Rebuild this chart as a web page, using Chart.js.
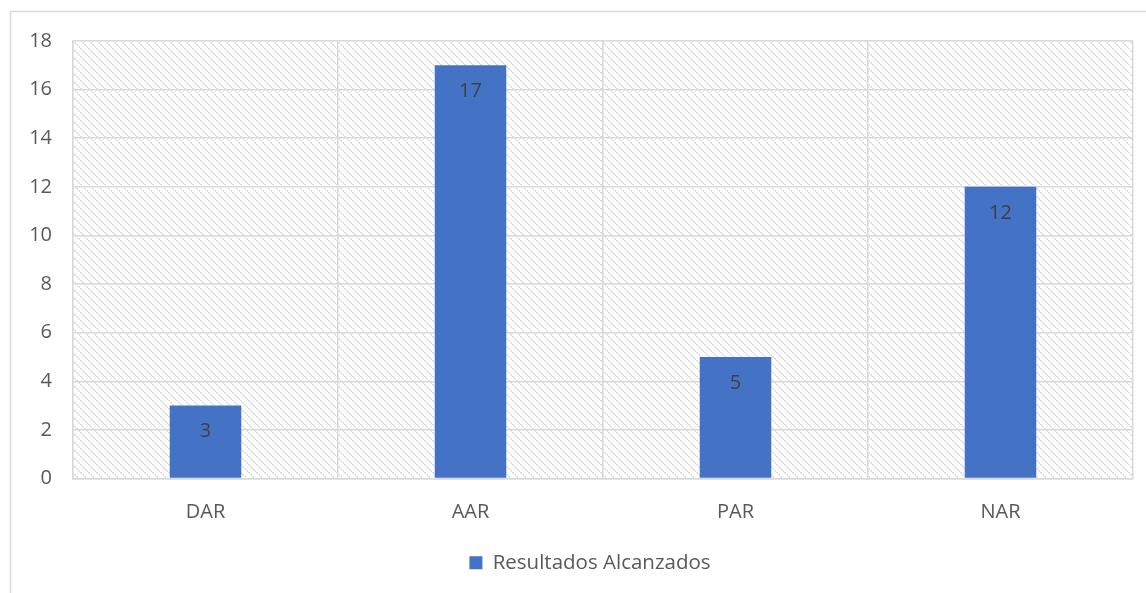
<!DOCTYPE html>
<html>
<head>
<meta charset="utf-8">
<script src="https://cdn.jsdelivr.net/npm/chart.js@4/dist/chart.umd.min.js"></script>
<style>
  html, body { margin: 0; padding: 0; background: #ffffff; overflow: hidden; }
  #wrap { width: 1146px; height: 593px; position: relative; }
</style>
</head>
<body>
<div id="wrap"><canvas id="chart" width="1146" height="593"></canvas></div>
<script>
const categories = ['DAR', 'AAR', 'PAR', 'NAR'];
const resultados = [3, 17, 5, 12];
const seriesName = 'Resultados Alcanzados';
const yMax = 18;
const yStep = 2;

const FONT = '"Open Sans", "Noto Sans", sans-serif';

// Light diagonal hatch used as the plot-area fill
function makeHatch() {
  const c = document.createElement('canvas');
  c.width = 8; c.height = 8;
  const g = c.getContext('2d');
  g.fillStyle = '#ffffff';
  g.fillRect(0, 0, 8, 8);
  g.fillStyle = '#dcdcdc';
  for (let i = 0; i < 8; i++) {
    if (i % 2 === 0) g.fillRect(i, i, 2, 1);
    else g.fillRect(i, i, 1, 1);
  }
  return c;
}

const frameAndHatch = {
  id: 'frameAndHatch',
  afterLayout(chart) {
    // centre the legend on the framed area rather than the full canvas
    if (chart.legend) {
      chart.legend.left = 47;
    }
  },
  beforeDraw(chart) {
    const ctx = chart.ctx;
    const a = chart.chartArea;
    ctx.save();
    ctx.strokeStyle = '#d9d9d9';
    ctx.lineWidth = 1.5;
    ctx.strokeRect(10.5, 11.5, chart.width + 20, chart.height + 20);
    ctx.fillStyle = ctx.createPattern(makeHatch(), 'repeat');
    ctx.fillRect(a.left, a.top, a.right - a.left, a.bottom - a.top);
    ctx.restore();
  }
};

const valueLabels = {
  id: 'valueLabels',
  afterDatasetsDraw(chart) {
    const ctx = chart.ctx;
    const meta = chart.getDatasetMeta(0);
    ctx.save();
    ctx.fillStyle = '#404040';
    ctx.font = '20px ' + FONT;
    ctx.textAlign = 'center';
    ctx.textBaseline = 'middle';
    meta.data.forEach((bar, i) => {
      ctx.fillText(String(chart.data.datasets[0].data[i]), bar.x, bar.y + 26);
    });
    ctx.restore();
  }
};

new Chart(document.getElementById('chart'), {
  type: 'bar',
  data: {
    labels: categories,
    datasets: [{
      label: seriesName,
      data: resultados,
      backgroundColor: '#4472c4',
      borderWidth: 0,
      categoryPercentage: 1,
      barPercentage: 0.27
    }]
  },
  options: {
    responsive: false,
    animation: false,
    layout: { padding: { left: 0, top: 41, right: 13, bottom: 10 } },
    plugins: {
      tooltip: { enabled: false },
      legend: {
        position: 'bottom',
        labels: {
          boxWidth: 13,
          boxHeight: 13,
          padding: 10,
          color: '#595959',
          font: { family: FONT, size: 20.5 }
        }
      }
    },
    scales: {
      x: {
        grid: { color: '#d9d9d9', lineWidth: 1.5, drawTicks: false, offset: true },
        border: { color: '#d9d9d9', width: 1.5 },
        ticks: { color: '#595959', padding: 22, font: { family: FONT, size: 20 } },
        afterFit(s) { s.height = 64; }
      },
      y: {
        min: 0,
        max: yMax,
        grid: { color: '#d9d9d9', lineWidth: 1.5, drawTicks: false },
        border: { color: '#d9d9d9', width: 1.5 },
        ticks: { stepSize: yStep, color: '#595959', padding: 21, font: { family: FONT, size: 20 } },
        afterFit(s) { s.width = 73; }
      }
    }
  },
  plugins: [frameAndHatch, valueLabels]
});
</script>
</body>
</html>
